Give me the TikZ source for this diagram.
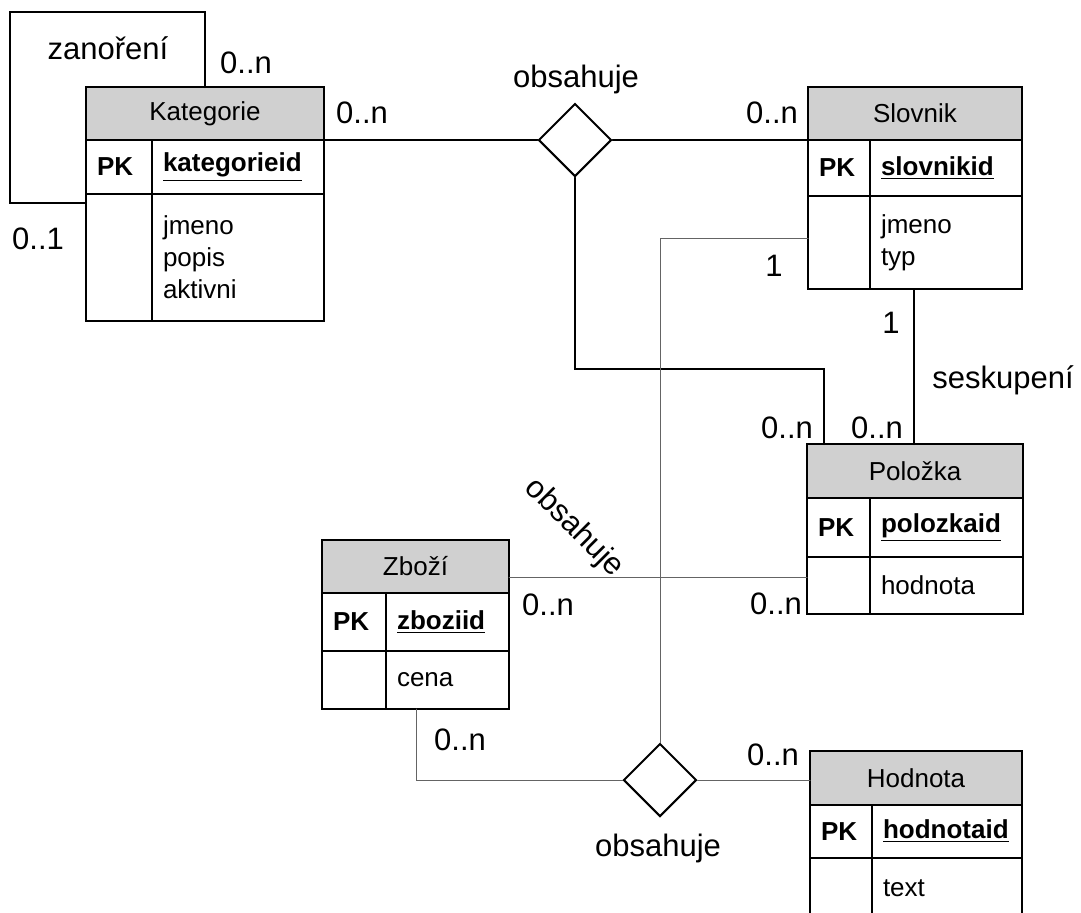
\documentclass[tikz,border=0pt]{standalone}
\usepackage{fontspec}
\setmainfont{Liberation Sans}
\usetikzlibrary{shapes.geometric}

\begin{document}
\begin{tikzpicture}
	[x=0.5pt,y=-0.5pt,line cap=round,
	%Styles
	cell/.style={draw,line width=1pt,inner sep=0pt,outer sep=0pt,anchor=north west,font=\fontsize{13}{16}\selectfont},
	head/.style={cell,fill=headgray},
	fieldcell/.style={cell,inner xsep=5.5pt,text width=#1,align=left},
	pkcell/.style={fieldcell=#1,font=\fontsize{13}{16}\selectfont\bfseries},
	relation/.style={diamond,draw,line width=1pt,fill=white,inner sep=0pt,minimum width=36.5pt,minimum height=36.5pt},
	card/.style={font=\fontsize{15.5}{18}\selectfont,inner sep=0pt},
	main line/.style={line width=1pt},
	thin line/.style={line width=0.5pt,linegray}
	]

	%Colors
	\definecolor{headgray}{RGB}{208,208,208}
	\definecolor{linegray}{RGB}{100,100,100}

	\useasboundingbox (0,0) rectangle (1081,912);

	%Tables
	\node[head,minimum width=119pt,minimum height=26.5pt] (kathead) at (86,87) {Kategorie};
	\node[pkcell=22pt,minimum height=27pt] (katpk) at (kathead.south west) {PK};
	\node[pkcell=75pt,minimum height=27pt] (katkey) at (katpk.north east) {\underline{kategorieid}};
	\node[cell,minimum width=33pt,minimum height=63.5pt] (katempty) at (katpk.south west) {};
	\node[fieldcell=75pt,minimum height=63.5pt] (katattr) at (katempty.north east) {jmeno\\popis\\aktivni};

	\node[head,minimum width=107pt,minimum height=26.5pt] (slovhead) at (808,87) {Slovnik};
	\node[pkcell=20pt,minimum height=28pt] (slovpk) at (slovhead.south west) {PK};
	\node[pkcell=65pt,minimum height=28pt] (slovkey) at (slovpk.north east) {\underline{slovnikid}};
	\node[cell,minimum width=31pt,minimum height=46.5pt] (slovempty) at (slovpk.south west) {};
	\node[fieldcell=65pt,minimum height=46.5pt] (slovattr) at (slovempty.north east) {jmeno\\typ};

	\node[head,minimum width=108pt,minimum height=27pt] (polhead) at (807,444) {Položka};
	\node[pkcell=20.5pt,minimum height=29.5pt] (polpk) at (polhead.south west) {PK};
	\node[pkcell=65.5pt,minimum height=29.5pt] (polkey) at (polpk.north east) {\underline{polozkaid}};
	\node[cell,minimum width=31.5pt,minimum height=28.5pt] (polempty) at (polpk.south west) {};
	\node[fieldcell=65.5pt,minimum height=28.5pt] (polattr) at (polempty.north east) {hodnota};

	\node[head,minimum width=93.5pt,minimum height=26.5pt] (zbohead) at (322,540) {Zboží};
	\node[pkcell=21pt,minimum height=29pt] (zbopk) at (zbohead.south west) {PK};
	\node[pkcell=50.5pt,minimum height=29pt] (zbokey) at (zbopk.north east) {\underline{zboziid}};
	\node[cell,minimum width=32pt,minimum height=29pt] (zboempty) at (zbopk.south west) {};
	\node[fieldcell=50.5pt,minimum height=29pt] (zboattr) at (zboempty.north east) {cena};

	\node[head,minimum width=106pt,minimum height=27pt] (hodhead) at (810,751) {Hodnota};
	\node[pkcell=20pt,minimum height=26.5pt] (hodpk) at (hodhead.south west) {PK};
	\node[pkcell=64pt,minimum height=26.5pt] (hodkey) at (hodpk.north east) {\underline{hodnotaid}};
	\node[cell,minimum width=31pt,minimum height=30pt] (hodempty) at (hodpk.south west) {};
	\node[fieldcell=64pt,minimum height=30pt] (hodattr) at (hodempty.north east) {text};

	%Relations
	\node[relation] (obs1) at (575,140) {};
	\node[relation] (obs2) at (660,780) {};

	%Labels
	\node[card] (obs1lbl) at (576,79) {obsahuje};
	\node[card] (katcard) at (362,113) {0..n};
	\node[card] (slovcard) at (772,113) {0..n};
	\node[card] (loopname) at (108,48) {zanoření};
	\node[card] (loopn) at (246,63) {0..n};
	\node[card] (loopone) at (38,239) {0..1};
	\node[card] (slovone) at (774,266) {1};
	\node[card] (seskone) at (891,323) {1};
	\node[card] (sesklbl) at (1003,380) {seskupení};
	\node[card] (polcardA) at (787,428) {0..n};
	\node[card] (polcardB) at (877,428) {0..n};
	\node[card,rotate=-45] (obs3lbl) at (574,528) {obsahuje};
	\node[card] (zbocard) at (548,605) {0..n};
	\node[card] (polcardC) at (776,604) {0..n};
	\node[card] (zbocardB) at (460,740) {0..n};
	\node[card] (hodcard) at (773,755) {0..n};
	\node[card] (obs2lbl) at (658,848) {obsahuje};

	%Connectors
	\coordinate (bend) at (575,369);
	\coordinate (loopc) at (10,12);
	\coordinate (seskA) at ([xshift=-16pt]slovattr.south);
	\coordinate (slovlink) at ([yshift=2pt]slovempty.west);
	\coordinate (zbolink) at ([yshift=-5.25pt]zbohead.east);
	\coordinate (zbodown) at ([xshift=-15.75pt]zboattr.south);

	\path[main line]
		(kathead.south east)	edge	(obs1.west)
		(obs1.east)	edge	(slovhead.south west);

	\draw[main line] (obs1.south) -- (bend) -| ([xshift=8.5pt]polhead.north west);
	\draw[main line] (seskA) -- (seskA |- polhead.north);
	\draw[main line] (kathead.north) |- (loopc) |- ([yshift=-4.5pt]katpk.south west);

	\draw[thin line] (slovlink) -| (obs2.north);
	\draw[thin line] (zbolink) -- (zbolink -| polempty.west);
	\draw[thin line] (zbodown) |- (obs2.west);
	\draw[thin line] (obs2.east) -- (obs2.east -| hodhead.west);
\end{tikzpicture}
\end{document}
